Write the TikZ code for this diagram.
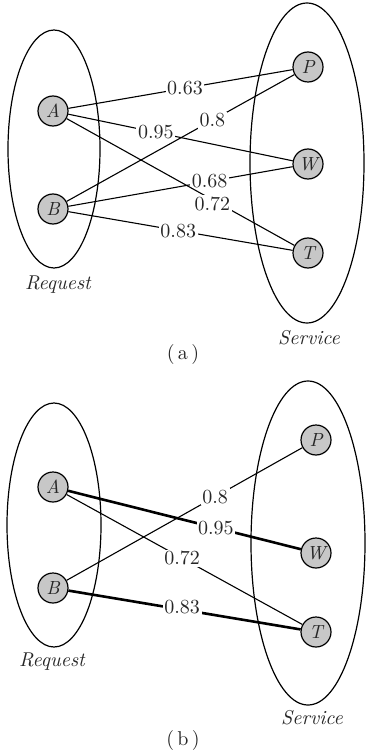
\documentclass[tikz,border=0pt]{standalone}
\usetikzlibrary{shapes.geometric}
\begin{document}
\begin{tikzpicture}[x=0.5pt,y=-0.5pt,
  vtx/.style={circle,draw=black,fill=black!22,line width=0.6pt,minimum size=15pt,inner sep=0pt,font=\fontsize{9.5}{10}\selectfont\itshape,text=black!85},
  wl/.style={fill=white,inner sep=0.8pt,font=\fontsize{10}{11}\selectfont,text=black!85},
  thin edge/.style={line width=0.55pt},
  thick edge/.style={line width=1.3pt},
  grp/.style={line width=0.6pt},
  setname/.style={font=\fontsize{10}{11}\selectfont\itshape,text=black!85},
  subcap/.style={font=\fontsize{10}{11}\selectfont,text=black!85}]
\useasboundingbox (0,0) rectangle (366,754);
% ---------- panel (a) ----------
\draw[grp] (54,149) ellipse [x radius=23pt, y radius=59.5pt];
\draw[grp] (307,163) ellipse [x radius=28.5pt, y radius=80pt];
\node[vtx] (aA) at (53,111) {A};
\node[vtx] (aB) at (53,209) {B};
\node[vtx] (aP) at (308,67) {P};
\node[vtx] (aW) at (308,164) {W};
\node[vtx] (aT) at (308,253) {T};
\node[setname] (aReq) at (58,285) {Request};
\node[setname] (aSer) at (309,338) {Service};
\node[subcap] (acap) at (183,354) {(\,a\,)};
\draw[thin edge] (aA) -- node[wl,pos=0.52] {0.63} (aP);
\draw[thin edge] (aA) -- node[wl,pos=0.39] {0.95} (aW);
\draw[thin edge] (aB) -- node[wl,pos=0.63] {0.68} (aW);
\draw[thin edge] (aA) -- node[wl,pos=0.64,yshift=-2pt] {0.72} (aT);
\draw[thin edge] (aB) -- node[wl,pos=0.64] {0.8} (aP);
\draw[thin edge] (aB) -- node[wl,pos=0.49] {0.83} (aT);
% ---------- panel (b) ----------
\draw[grp] (54,525) ellipse [x radius=23.5pt, y radius=61pt];
\draw[grp] (308,543) ellipse [x radius=28.5pt, y radius=81pt];
\node[vtx] (bA) at (53,487) {A};
\node[vtx] (bB) at (53,588) {B};
\node[vtx] (bP) at (316,440) {P};
\node[vtx] (bW) at (316,553) {W};
\node[vtx] (bT) at (316,632) {T};
\node[setname] (bReq) at (52,662) {Request};
\node[setname] (bSer) at (312,718) {Service};
\node[subcap] (bcap) at (183,740) {(\,b\,)};
\draw[thin edge] (bA) -- node[wl,pos=0.49] {0.72} (bT);
\draw[thin edge] (bB) -- node[wl,pos=0.63] {0.8} (bP);
\draw[thick edge] (bA) -- node[wl,pos=0.635] {0.95} (bW);
\draw[thick edge] (bB) -- node[wl,pos=0.49,yshift=1.5pt] {0.83} (bT);
\end{tikzpicture}
\end{document}
